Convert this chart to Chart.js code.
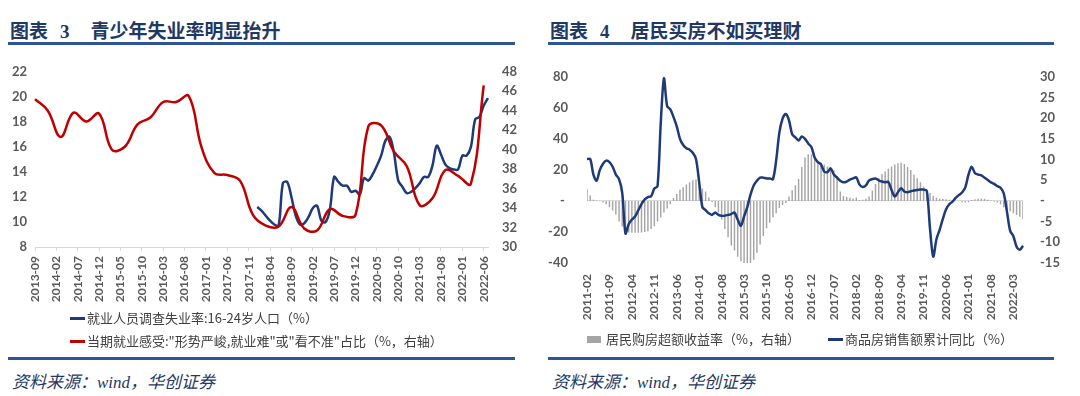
<!DOCTYPE html>
<html>
<head>
<meta charset="utf-8">
<script src="https://cdn.jsdelivr.net/npm/chart.js@4.4.1/dist/chart.umd.min.js"></script>
<style>
  body { margin:0; width:1080px; height:396px; background:#fff; position:relative; overflow:hidden; }
  .title { position:absolute; top:16px; height:22px; line-height:22px; font:bold 19px "Liberation Serif","Noto Sans CJK SC",serif; color:#1F3864; white-space:nowrap; }
  .title .n { margin-left:12px; }
  .title .t { margin-left:21px; }
  .rule { position:absolute; height:3px; background:#2F5496; }
  .box { position:absolute; }
  .leg { position:absolute; height:20px; line-height:20px; font:13px "Noto Sans CJK SC",sans-serif; color:#404040; white-space:nowrap; }
  .leg i { display:inline-block; vertical-align:middle; margin-right:2px; position:relative; top:-1px; }
  .src { position:absolute; top:368px; height:22px; line-height:22px; font:italic 17px "Liberation Serif","Noto Sans CJK SC",serif; color:#1F3864; white-space:nowrap; }
</style>
</head>
<body>
<div class="title" style="left:10px">图表<span class="n">3</span><span class="t">青少年失业率明显抬升</span></div>
<div class="rule" style="left:8px;top:42px;width:507px"></div>
<div class="box" style="left:0;top:50px"><canvas id="chart-youth" width="540" height="262"></canvas></div>
<div id="leg-youth"></div>
<div class="rule" style="left:8px;top:357px;width:507px"></div>
<div class="src" style="left:12px">资料来源：wind，华创证券</div>

<div class="title" style="left:550px">图表<span class="n">4</span><span class="t">居民买房不如买理财</span></div>
<div class="rule" style="left:548px;top:42px;width:506px"></div>
<div class="box" style="left:540px;top:50px"><canvas id="chart-house" width="540" height="280"></canvas></div>
<div id="leg-house"></div>
<div class="rule" style="left:548px;top:357px;width:506px"></div>
<div class="src" style="left:552px">资料来源：wind，华创证券</div>

<script>
function monthRange(a, b) {
  let [y, m] = a.split('-').map(Number)
  let out = []
  while (true) {
    let s = y + '-' + String(m).padStart(2, '0')
    out.push(s)
    if (s === b) break
    m++
    if (m > 12) { m = 1; y++ }
  }
  return out
}

// ---- chart 3 data ----
let meses_3 = monthRange('2013-09', '2022-07')
let trimestres_3 = meses_3.filter((m, i) => i % 3 === 0)   // 2013-09 ... 2022-06
let meses_desemprego = monthRange('2018-01', '2022-07')
let desemprego_jovem = [11.2, 10.9, 10.5, 10.1, 9.8, 9.7, 13.1, 13.2, 12.0, 10.5, 9.8, 9.9,
  10.4, 11.1, 11.3, 10.1, 10.0, 11.0, 13.6, 13.2, 12.9, 12.9, 12.4, 12.5,
  12.2, 13.5, 13.3, 13.8, 14.5, 15.3, 16.5, 16.8, 15.5, 13.3, 12.8, 12.3,
  12.4, 12.7, 13.1, 13.6, 13.6, 14.5, 16.1, 15.4, 14.6, 14.3, 14.2, 14.2,
  15.3, 15.3, 16.0, 18.2, 18.4, 19.3, 19.9]
let sentimento_emprego = [45.2, 44.0, 41.3, 43.8, 42.9, 43.7, 40.0, 40.3, 42.6, 43.3, 44.9, 44.9,
  45.5, 40.2, 37.6, 37.4, 36.8, 33.3, 32.2, 32.1, 34.1, 31.9, 31.7, 33.9,
  33.2, 33.3, 42.4, 42.5, 39.8, 38.3, 34.3, 35.0, 37.9, 37.3, 36.5, 46.6]
let legenda_3 = ['就业人员调查失业率:16-24岁人口（%）', '当期就业感受:"形势严峻,就业难"或"看不准"占比（%，右轴）']

// ---- chart 4 data ----
let meses_4 = monthRange('2011-02', '2022-06')
let vendas_yoy = [27, 27, 17, 13, 20, 24, 26, 25, 22, 17, 14, 5,
  -21, -15, -12, -10, -6, -2, 1, 2.5, 3, 8, 9.5, 50,
  79, 61, 59, 54, 48, 40, 36, 34, 33, 31, 27, 12,
  -4, -6, -8, -9, -7.5, -9, -9.6, -9.5, -9, -8.5, -7.5, -12,
  -16, -10, -4, 4, 10, 13, 15, 15, 14.5, 14.5, 14, 26,
  44, 53, 56, 52, 43, 41, 39, 41.5, 40, 37, 34.8, 28,
  25, 23.5, 19, 18.5, 21, 17, 15, 13, 12, 12.5, 13.7, 14.5,
  15.2, 10.5, 9, 10, 13.2, 14.1, 14.5, 13.3, 12.5, 12.1, 12.2, 7,
  2.8, 5.6, 8.1, 6.1, 5.6, 6.2, 6.7, 7.1, 7.3, 7.3, 6.5, -18,
  -35.9, -24.7, -18.6, -11.6, -5.4, -2.1, -0.5, 2, 3.8, 5.4, 8.7, 17,
  22, 18, 17, 16.5, 15, 13.5, 12, 11, 9.5, 8.5, 4.8, -7,
  -19.3, -22.7, -29.5, -31.5, -28.9]
let retorno_excesso = [2.8, 1.3, 0.3, 0.1, -0.1, -0.4, -0.8, -1.5, -2.3, -3.3, -5.0, -6.2,
  -7.0, -7.6, -7.7, -7.7, -7.7, -7.6, -7.5, -7.3, -6.8, -6.1, -5.0, -4.0,
  -2.8, -1.8, -0.8, 0.7, 1.7, 2.7, 3.3, 4.0, 4.5, 5.0, 5.2, 4.8,
  3.0, 2.3, 0.8, -0.3, -1.5, -2.8, -4.5, -6.8, -8.8, -10.8, -12.0, -13.5,
  -14.6, -15.3, -15.5, -15.4, -14.2, -12.5, -10.5, -8.5, -6.6, -5.3, -4.0, -3.0,
  -1.7, -1.0, -0.5, 1.1, 2.6, 3.8, 5.3, 8.2, 10.5, 11.3, 11.2, 10.2,
  9.6, 9.2, 8.8, 8.3, 7.8, 7.4, 6.0, 2.3, 1.2, 1.0, 0.75, 0.6,
  0.8, 0.2, 0.3, 0.5, 1.1, 2.5, 4.1, 5.5, 6.5, 7.1, 7.8, 8.3,
  8.8, 9.1, 9.2, 8.9, 8.2, 7.5, 6.3, 5.5, 4.5, 3.5, 2.5, 1.9,
  1.2, 0.75, 0.5, 0.45, 0.4, 0.3, 0.1, 0.0, -0.1, -0.3, -0.4, -0.3,
  0.2, 0.4, 0.5, 0.6, 0.5, 0.3, 0.1, -0.2, -0.4, -0.8, -1.5, -2.0,
  -2.5, -3.0, -3.4, -3.8, -4.5]
let legenda_4 = ['居民购房超额收益率（%，右轴）', '商品房销售额累计同比（%）']

let azul = '#1F3A78'
let vermelho = '#C00000'
let cinza = '#A5A5A5'
let texto_eixo = '#595959'

Chart.defaults.font.family = 'Lato'
Chart.defaults.animation = false

let fonte_y = { family: 'Lato', size: 13, weight: 'bold' }
let fonte_x = { family: 'Lato', size: 12, weight: 'bold' }
let zero = v => v === 0 ? '-' : v

var ctx = document.getElementById('chart-youth').getContext('2d')

var chart = new Chart(ctx, {
  type: 'line',
  data: {
    labels: meses_3,
    datasets: [{
      label: legenda_3[1],
      data: sentimento_emprego.map((v, i) => ({ x: trimestres_3[i], y: v })),
      yAxisID: 'y1',
      borderColor: vermelho,
      borderWidth: 2.5,
      pointRadius: 0,
      tension: 0.4,
      order: 0,
    }, {
      label: legenda_3[0],
      data: desemprego_jovem.map((v, i) => ({ x: meses_desemprego[i], y: v })),
      yAxisID: 'y',
      borderColor: azul,
      borderWidth: 2.5,
      pointRadius: 0,
      tension: 0.35,
      order: 1,
    }]
  },
  options: {
    responsive: false,
    layout: { padding: { top: 12 } },
    plugins: { legend: { display: false }, tooltip: { enabled: false } },
    scales: {
      x: {
        type: 'category',
        offset: false,
        grid: { display: true, drawOnChartArea: false, drawTicks: true, tickLength: 4, color: '#D9D9D9' },
        border: { display: true, color: '#D9D9D9' },
        ticks: { autoSkip: false, minRotation: 90, maxRotation: 90, padding: 5, color: texto_eixo, font: fonte_x },
        afterBuildTicks: s => { s.ticks = s.ticks.filter((t, i) => i % 5 === 0) },
        afterFit: s => { s.height = 65 },
      },
      y: {
        position: 'left', min: 8, max: 22,
        grid: { display: false, drawTicks: false },
        border: { display: false },
        ticks: { stepSize: 2, padding: 8, color: texto_eixo, font: fonte_y },
        afterFit: s => { s.width = 35 },
      },
      y1: {
        position: 'right', min: 30, max: 48,
        grid: { display: false, drawTicks: false },
        border: { display: false },
        ticks: { stepSize: 2, padding: 14, color: texto_eixo, font: fonte_y },
        afterFit: s => { s.width = 52 },
      },
    },
  },
})

var ctx = document.getElementById('chart-house').getContext('2d')

var chart2 = new Chart(ctx, {
  type: 'bar',
  data: {
    labels: meses_4,
    datasets: [{
      type: 'bar',
      label: legenda_4[0],
      data: retorno_excesso,
      yAxisID: 'y1',
      backgroundColor: cinza,
      barPercentage: 0.45,
      categoryPercentage: 1,
      order: 1,
    }, {
      type: 'line',
      label: legenda_4[1],
      data: vendas_yoy,
      yAxisID: 'y',
      borderColor: azul,
      borderWidth: 2.5,
      pointRadius: 0,
      tension: 0.3,
      order: 0,
    }]
  },
  options: {
    responsive: false,
    layout: { padding: { top: 13 } },
    plugins: { legend: { display: false }, tooltip: { enabled: false } },
    scales: {
      x: {
        type: 'category',
        offset: false,
        grid: { display: false, drawTicks: false },
        border: { display: false },
        ticks: { autoSkip: false, minRotation: 90, maxRotation: 90, padding: 11, color: texto_eixo, font: fonte_x },
        afterBuildTicks: s => { s.ticks = s.ticks.filter((t, i) => i % 7 === 0) },
        afterFit: s => { s.height = 67 },
      },
      y: {
        position: 'left', min: -40, max: 80,
        grid: { drawTicks: false, color: c => c.tick.value === 0 ? '#D9D9D9' : 'rgba(0,0,0,0)' },
        border: { display: false },
        ticks: { stepSize: 20, padding: 19, color: texto_eixo, font: fonte_y, callback: v => v === 0 ? '- ' : v },
        afterFit: s => { s.width = 47 },
      },
      y1: {
        position: 'right', min: -15, max: 30,
        grid: { display: false, drawTicks: false },
        border: { display: false },
        ticks: { stepSize: 5, padding: 17, color: texto_eixo, font: fonte_y, callback: zero },
        afterFit: s => { s.width = 57 },
      },
    },
  },
})

// html legends built from the dataset labels
function addLeg(holder, text, left, top, marker) {
  let d = document.createElement('div')
  d.className = 'leg'
  d.style.left = left + 'px'
  d.style.top = top + 'px'
  let i = document.createElement('i')
  Object.assign(i.style, marker)
  d.appendChild(i)
  d.appendChild(document.createTextNode(text))
  document.getElementById(holder).appendChild(d)
}
let ds3 = chart.data.datasets
addLeg('leg-youth', ds3[1].label, 70, 308, { width: '15px', height: '2.5px', background: ds3[1].borderColor })
addLeg('leg-youth', ds3[0].label, 70, 331, { width: '15px', height: '2.5px', background: ds3[0].borderColor })
let ds4 = chart2.data.datasets
addLeg('leg-house', ds4[0].label, 587, 329, { width: '14px', height: '7px', background: ds4[0].backgroundColor, marginRight: '5px' })
addLeg('leg-house', ds4[1].label, 828, 329, { width: '15px', height: '2.5px', background: ds4[1].borderColor })
</script>
</body>
</html>
